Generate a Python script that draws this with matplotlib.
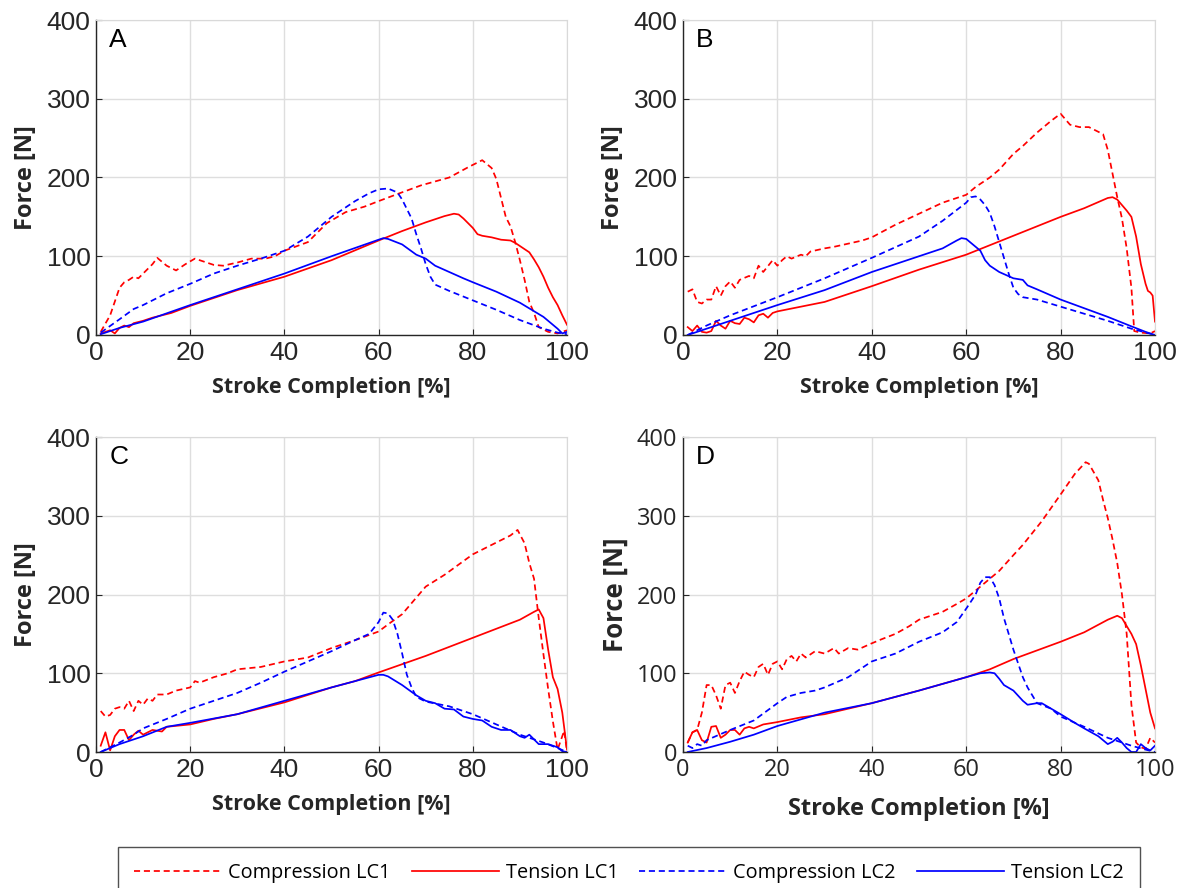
import matplotlib
matplotlib.use("Agg")
import matplotlib.pyplot as plt
from matplotlib.lines import Line2D

# ---------------- data ----------------
# Panel A
A_c1_x = [1, 3, 5, 6, 7, 8, 9, 10, 12, 13, 15, 17, 19, 21, 23, 25, 27, 30, 33, 36, 38, 40, 45, 49, 53, 57, 60, 64, 69, 75, 79, 82, 84, 85, 87, 88, 89, 90, 91, 92, 93, 94, 96, 98, 100]
A_c1_y = [4, 25, 60, 67, 70, 74, 72, 78, 90, 98, 88, 82, 90, 97, 93, 89, 88, 92, 97, 97, 100, 107, 118, 142, 156, 163, 170, 179, 190, 200, 213, 222, 212, 198, 150, 138, 118, 95, 70, 42, 28, 10, 4, 2, 6]
A_t1_x = [1, 3, 4, 5, 6, 7, 8, 10, 12, 14, 16, 20, 30, 40, 50, 60, 65, 70, 74, 76, 77, 78, 80, 81, 82, 84, 86, 88, 89, 90, 92, 93, 94, 95, 96, 97, 98, 99, 100]
A_t1_y = [2, 6, 2, 9, 12, 10, 15, 18, 22, 25, 28, 37, 57, 74, 95, 120, 132, 143, 151, 154, 153, 148, 136, 128, 126, 124, 121, 120, 117, 113, 105, 96, 86, 74, 60, 48, 38, 25, 13]
A_c2_x = [1, 5, 8, 10, 15, 20, 25, 30, 35, 40, 45, 50, 55, 58, 60, 62, 64, 65, 66, 67, 68, 69, 70, 71, 72, 75, 80, 85, 90, 95, 98, 100]
A_c2_y = [3, 20, 33, 38, 53, 65, 78, 88, 97, 107, 125, 150, 170, 180, 185, 186, 181, 172, 160, 148, 128, 110, 90, 74, 64, 56, 44, 32, 19, 8, 3, 1]
A_t2_x = [1, 5, 10, 20, 30, 40, 50, 60, 61, 62, 65, 68, 70, 72, 75, 78, 80, 85, 90, 95, 98, 99, 100]
A_t2_y = [1, 9, 17, 38, 58, 78, 100, 121, 123, 122, 115, 102, 97, 88, 80, 72, 67, 55, 41, 23, 8, 2, 4]

# Panel B
B_c1_x = [1, 2, 3, 4, 5, 6, 7, 8, 9, 10, 11, 12, 14, 15, 16, 17, 19, 20, 21, 22, 23, 25, 26, 27, 30, 32, 35, 38, 40, 45, 50, 55, 60, 62, 65, 67, 70, 72, 75, 78, 80, 82, 84, 86, 88, 89, 90, 91, 92, 93, 94, 95, 95.6, 97, 99, 100]
B_c1_y = [55, 58, 42, 40, 45, 45, 62, 50, 62, 68, 60, 70, 75, 72, 88, 80, 95, 88, 95, 100, 97, 102, 100, 106, 110, 112, 116, 120, 124, 140, 154, 168, 178, 188, 200, 210, 230, 240, 257, 272, 281, 267, 264, 264, 258, 255, 235, 205, 175, 148, 110, 60, 5, 3, 2, 5]
B_t1_x = [1, 2, 3, 4, 5, 6, 7, 8, 9, 10, 11, 12, 13, 14, 15, 16, 17, 18, 19, 20, 25, 30, 35, 40, 50, 60, 70, 80, 85, 90, 91, 92, 93, 94, 95, 96, 97, 98, 98.5, 99, 99.5, 100]
B_t1_y = [10, 5, 12, 4, 3, 5, 18, 12, 8, 18, 15, 14, 22, 20, 16, 25, 27, 22, 28, 30, 36, 42, 52, 62, 83, 102, 126, 150, 161, 174, 175, 172, 165, 158, 150, 125, 90, 65, 56, 54, 50, 17]
B_c2_x = [1, 5, 10, 20, 30, 40, 50, 55, 60, 61, 62, 63, 64, 65, 66, 67, 68, 69, 70, 71, 72, 75, 80, 85, 90, 95, 100]
B_c2_y = [0, 12, 25, 48, 72, 98, 125, 145, 168, 175, 176, 172, 165, 155, 138, 118, 98, 78, 60, 52, 48, 45, 36, 27, 18, 8, 0]
B_t2_x = [1, 5, 10, 15, 20, 30, 40, 50, 55, 58, 59, 60, 62, 63, 64, 65, 67, 70, 72, 73, 75, 80, 85, 90, 95, 98, 100]
B_t2_y = [0, 8, 18, 28, 38, 57, 80, 100, 110, 120, 123, 122, 112, 107, 95, 88, 80, 72, 70, 63, 58, 45, 34, 23, 11, 4, 0]

# Panel C
C_c1_x = [1, 2, 3, 4, 5, 6, 7, 8, 9, 10, 11, 12, 13, 15, 17, 20, 21, 22, 25, 28, 30, 35, 40, 45, 50, 55, 60, 62, 65, 68, 70, 74, 80, 85, 88, 89.5, 91, 92, 93, 94, 95, 96, 97, 98, 99.4, 100]
C_c1_y = [52, 45, 47, 55, 57, 55, 65, 52, 65, 60, 68, 65, 73, 73, 78, 82, 90, 88, 95, 100, 105, 108, 115, 120, 132, 142, 153, 162, 175, 196, 210, 225, 251, 266, 275, 282, 265, 240, 220, 170, 124, 80, 39, 3, 27, 1]
C_t1_x = [1, 2, 3, 4, 5, 6, 7, 8, 9, 10, 12, 14, 15, 20, 25, 30, 40, 50, 55, 60, 70, 80, 90, 93, 94, 95, 96, 97, 98, 99, 100]
C_t1_y = [8, 25, 2, 20, 28, 28, 15, 22, 27, 22, 28, 26, 32, 35, 42, 48, 63, 82, 90, 101, 122, 145, 168, 178, 181, 170, 130, 95, 80, 50, 3]
C_c2_x = [1, 5, 8, 10, 15, 20, 25, 30, 35, 40, 45, 50, 55, 58, 60, 61, 62, 63, 64, 65, 66, 67, 68, 70, 75, 80, 85, 90, 95, 98, 100]
C_c2_y = [0, 12, 22, 30, 42, 55, 65, 75, 88, 102, 115, 128, 142, 150, 165, 177, 176, 168, 150, 125, 98, 82, 70, 64, 58, 48, 35, 22, 12, 5, 0]
C_t2_x = [1, 5, 10, 15, 20, 30, 40, 50, 55, 60, 61, 62, 65, 68, 70, 72, 74, 76, 78, 80, 82, 84, 86, 88, 90, 91, 92, 94, 96, 98, 99, 100]
C_t2_y = [0, 10, 20, 32, 37, 48, 65, 82, 90, 98, 98, 96, 85, 72, 65, 62, 55, 54, 45, 42, 40, 32, 28, 28, 20, 18, 22, 10, 10, 6, 1, 0]

# Panel D
D_c1_x = [1, 2, 3, 4, 5, 6, 7, 8, 9, 10, 11, 12, 13, 14, 15, 16, 17, 18, 19, 20, 21, 22, 23, 24, 25, 26, 28, 30, 32, 33, 35, 37, 40, 42, 45, 48, 50, 55, 58, 60, 62, 65, 67, 70, 72, 76, 80, 83, 85.3, 86, 88, 89, 90, 91, 92, 93, 94, 95, 96, 97, 98, 99, 100]
D_c1_y = [12, 25, 28, 50, 85, 85, 72, 55, 85, 88, 75, 90, 102, 98, 95, 108, 112, 98, 112, 115, 105, 118, 122, 115, 125, 120, 128, 125, 132, 125, 132, 130, 138, 143, 150, 160, 168, 178, 188, 195, 205, 220, 230, 250, 263, 293, 327, 353, 368, 366, 345, 320, 297, 270, 240, 200, 150, 60, 12, 6, 4, 18, 12]
D_t1_x = [1, 2, 3, 4, 5, 6, 7, 8, 9, 10, 11, 12, 13, 14, 15, 17, 20, 25, 30, 35, 40, 50, 60, 65, 70, 80, 85, 90, 92, 93, 94, 95, 96, 97, 98, 99, 100]
D_t1_y = [12, 25, 28, 15, 12, 32, 33, 18, 22, 28, 28, 22, 30, 32, 30, 35, 38, 44, 48, 55, 62, 78, 95, 105, 118, 140, 152, 168, 173, 170, 160, 150, 137, 110, 80, 50, 30]
D_c2_x = [1, 2, 3, 4, 5, 10, 15, 20, 22, 25, 28, 30, 35, 40, 45, 50, 55, 58, 60, 62, 63, 64, 65, 66, 67, 68, 70, 72, 73, 75, 78, 80, 85, 90, 95, 98, 100]
D_c2_y = [8, 5, 10, 8, 15, 28, 40, 62, 70, 75, 78, 82, 95, 115, 125, 140, 152, 165, 182, 200, 215, 222, 222, 212, 195, 170, 130, 95, 82, 62, 55, 45, 32, 18, 8, 3, 0]
D_t2_x = [1, 5, 10, 15, 20, 30, 40, 50, 60, 63, 65, 66, 67, 68, 70, 72, 73, 75, 76, 78, 80, 83, 85, 88, 90, 91, 92, 93, 94, 95, 96, 97, 98, 99, 100]
D_t2_y = [0, 5, 13, 22, 33, 50, 62, 78, 95, 100, 101, 100, 93, 85, 78, 65, 60, 62, 62, 55, 48, 37, 30, 20, 10, 13, 18, 12, 5, 0, 0, 10, 5, 2, 8]

panel_labels = ["A", "B", "C", "D"]
series_names = ["Compression LC1", "Tension LC1", "Compression LC2", "Tension LC2"]
x_ticks = [0, 20, 40, 60, 80, 100]
y_ticks = [0, 100, 200, 300, 400]

panels = [
    [(A_c1_x, A_c1_y), (A_t1_x, A_t1_y), (A_c2_x, A_c2_y), (A_t2_x, A_t2_y)],
    [(B_c1_x, B_c1_y), (B_t1_x, B_t1_y), (B_c2_x, B_c2_y), (B_t2_x, B_t2_y)],
    [(C_c1_x, C_c1_y), (C_t1_x, C_t1_y), (C_c2_x, C_c2_y), (C_t2_x, C_t2_y)],
    [(D_c1_x, D_c1_y), (D_t1_x, D_t1_y), (D_c2_x, D_c2_y), (D_t2_x, D_t2_y)],
]

# ---------------- styling ----------------
RED = "#ff0000"
BLUE = "#0000ff"
styles = [
    dict(color=RED, ls=(0, (3.5, 2.2))),
    dict(color=RED, ls="-"),
    dict(color=BLUE, ls=(0, (3.5, 2.2))),
    dict(color=BLUE, ls="-"),
]
LW = 1.25
W, H = 1186, 888
fig = plt.figure(figsize=(W / 100, H / 100), dpi=100)

# axes boxes in pixels: left, top, right, bottom
boxes = [(96, 20, 567, 335), (683, 20, 1155, 335), (96, 437, 567, 752), (683, 437, 1155, 752)]

for i, (box, data) in enumerate(zip(boxes, panels)):
    l, t, r, b = box
    ax = fig.add_axes([l / W, 1 - b / H, (r - l) / W, (b - t) / H])
    for (xs, ys), st in zip(data, styles):
        ax.plot(xs, ys, lw=LW, **st)
    ax.set_xlim(0, 100)
    ax.set_ylim(0, 400)
    ax.set_xticks(x_ticks)
    ax.set_yticks(y_ticks)
    ax.grid(True, color="#dedede", lw=1.0)
    ax.set_axisbelow(True)
    for side in ["top", "right"]:
        ax.spines[side].set_color("#d9d9d9")
    for side in ["left", "bottom"]:
        ax.spines[side].set_color("#262626")
        ax.spines[side].set_linewidth(1.0)
    isD = (i == 3)
    tick_font = "Open Sans" if isD else "Liberation Sans"
    tick_size = 17 if isD else 19
    ax.tick_params(direction="in", length=4, width=0.8, colors="#262626",
                   labelsize=tick_size, pad=4)
    for lab in ax.get_xticklabels() + ax.get_yticklabels():
        lab.set_fontfamily(tick_font)
        lab.set_color("#262626")
    xl_size = 17 if isD else 15.5
    yl_size = 18.5 if isD else 17
    ax.set_xlabel("Stroke Completion [%]", fontfamily="Open Sans", fontweight="bold",
                  fontsize=xl_size, color="#262626", labelpad=9 if not isD else 11)
    ax.set_ylabel("Force [N]", fontfamily="Open Sans", fontweight="bold",
                  fontsize=yl_size, color="#262626", labelpad=6)
    ax.text(0.028, 0.975, panel_labels[i], transform=ax.transAxes, ha="left", va="top",
            fontsize=19, fontfamily="Liberation Sans", color="black")

handles = [Line2D([0], [0], lw=LW, **st) for st in styles]
leg = fig.legend(handles, series_names, loc="upper center", bbox_to_anchor=(629 / W, 1 - 847 / H),
                 ncol=4, frameon=True, fancybox=False, edgecolor="#262626",
                 prop=dict(family="Open Sans", size=14.3), handlelength=4.4, handletextpad=0.34,
                 columnspacing=1.05, borderpad=0.8, borderaxespad=0)
leg.get_frame().set_linewidth(1.0)

fig.savefig("out.png", dpi=100)
